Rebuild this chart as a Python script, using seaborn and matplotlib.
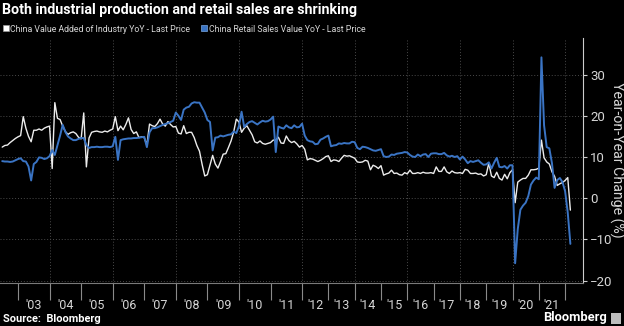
import matplotlib
matplotlib.use("Agg")
import matplotlib.pyplot as plt
from matplotlib.font_manager import FontProperties
from matplotlib.lines import Line2D
from matplotlib.patches import Rectangle
import pandas as pd
import seaborn as sns

# China value added of industry, YoY % (monthly; from 2012 only Mar-Dec are published)
industry_2002_2006 = [
    12.4, 12.8, 12.9, 13.5, 14.0, 14.5, 14.9,                          # 2002 Jun-Dec
    15.2, 19.8, 17.0, 15.0, 13.7, 16.5, 16.5, 16.8, 16.5, 17.0, 17.3, 17.5,  # 2003
    7.2, 23.2, 19.4, 19.1, 17.5, 16.2, 15.5, 15.9, 16.1, 15.7, 14.8, 14.4,   # 2004
    20.7, 7.6, 14.6, 16.0, 16.2, 16.3, 16.1, 16.0, 16.3, 16.1, 16.5, 16.8,   # 2005
    19.8, 16.4, 17.5, 16.6, 17.9, 19.5, 16.7, 15.7, 16.1, 14.7, 14.9, 14.7,  # 2006
]
industry_2007_2011 = [
    12.9, 18.0, 17.6, 17.4, 18.1, 19.2, 18.0, 17.5, 18.6, 17.9, 17.3, 17.4,  # 2007
    15.8, 15.6, 17.6, 15.7, 16.0, 16.0, 14.7, 12.8, 11.4, 8.2, 5.4, 5.7,     # 2008
    8.0, 10.4, 8.3, 7.3, 8.9, 10.7, 10.8, 12.3, 13.9, 16.1, 19.2, 18.5,      # 2009
    16.0, 17.0, 17.6, 16.5, 15.4, 13.7, 13.4, 13.9, 13.3, 13.1, 13.3, 13.5,  # 2010
    14.1, 14.1, 14.8, 13.4, 13.3, 15.1, 14.0, 13.5, 13.8, 13.2, 12.4, 12.8,  # 2011
]
industry_2012_2016 = [
    11.9, 9.3, 9.6, 9.5, 9.2, 8.9, 9.2, 9.6, 10.1, 10.3,   # 2012 Mar-Dec
    8.9, 9.3, 9.2, 8.9, 9.7, 10.4, 10.2, 10.3, 10.0, 9.7,  # 2013
    8.8, 8.7, 8.8, 9.2, 9.0, 6.9, 8.0, 7.7, 7.2, 7.9,      # 2014
    5.6, 5.9, 6.1, 6.8, 6.0, 6.1, 5.7, 5.6, 6.2, 5.9,      # 2015
    6.8, 6.0, 6.0, 6.2, 6.0, 6.3, 6.1, 6.1, 6.2, 6.0,      # 2016
]
industry_2017_2022 = [
    7.6, 6.5, 6.5, 7.6, 6.4, 6.0, 6.6, 6.2, 6.1, 6.2,      # 2017
    6.0, 7.0, 6.8, 6.0, 6.0, 6.1, 5.8, 5.9, 5.4, 5.7,      # 2018
    8.5, 5.4, 5.0, 6.3, 4.8, 4.4, 5.8, 4.7, 6.2, 6.9,      # 2019
    -1.1, 3.9, 4.4, 4.8, 4.8, 5.6, 6.9, 6.9, 7.0, 7.3,     # 2020
    14.1, 9.8, 8.8, 8.3, 6.4, 5.3, 3.1, 3.5, 3.8, 4.3,     # 2021
    5.0, -2.9,                                             # 2022 Mar-Apr
]

# China retail sales value, YoY %
retail_2002_2006 = [
    9.0, 8.9, 8.9, 8.8, 8.9, 9.2, 9.5,
    9.7, 9.0, 8.9, 7.7, 4.3, 8.3, 8.8, 9.9, 9.8, 9.5, 9.7, 10.2,
    11.7, 10.5, 12.8, 15.2, 17.8, 16.1, 15.0, 14.5, 14.1, 14.1, 14.4, 14.6,
    14.6, 12.9, 12.2, 12.4, 12.4, 12.5, 12.4, 12.4, 12.5, 12.5, 12.4, 12.6,
    14.9, 9.3, 14.1, 14.3, 14.4, 14.5, 14.5, 14.6, 14.6, 14.7, 14.8, 14.9,
]
retail_2007_2011 = [
    12.4, 16.0, 17.0, 17.0, 17.2, 17.5, 17.8, 18.0, 18.2, 18.5, 18.8, 20.8,
    20.0, 19.0, 21.5, 22.0, 22.2, 23.0, 23.3, 23.2, 23.2, 22.0, 20.8, 19.0,
    18.5, 11.6, 14.7, 14.8, 15.2, 15.0, 15.2, 15.4, 15.5, 16.2, 15.8, 17.5,
    21.0, 17.3, 18.0, 18.5, 18.7, 18.3, 17.9, 18.4, 18.8, 18.6, 18.7, 19.1,
    19.8, 11.2, 17.4, 17.1, 16.9, 17.7, 17.2, 17.0, 17.7, 17.2, 17.3, 18.1,
]
retail_2012_2016 = [
    15.2, 14.1, 13.8, 13.7, 13.1, 13.2, 14.2, 14.5, 14.9, 15.2,
    12.6, 12.8, 12.9, 13.3, 13.2, 13.4, 13.3, 13.3, 13.7, 13.6,
    12.2, 11.9, 12.5, 12.4, 12.2, 11.9, 11.6, 11.5, 11.7, 11.9,
    10.2, 10.0, 10.1, 10.6, 10.5, 10.8, 10.9, 11.0, 11.2, 11.1,
    10.5, 10.1, 10.0, 10.6, 10.2, 10.6, 10.7, 10.0, 10.8, 10.9,
]
retail_2017_2022 = [
    10.9, 10.7, 10.7, 11.0, 10.4, 10.1, 10.3, 10.0, 10.2, 9.4,
    10.1, 9.4, 8.5, 9.0, 8.8, 9.0, 9.2, 8.6, 8.1, 8.2,
    8.7, 7.2, 8.6, 9.8, 7.6, 7.5, 7.8, 7.2, 8.0, 8.0,
    -15.8, -7.5, -2.8, -1.8, -1.1, 0.5, 3.3, 4.3, 5.0, 4.6,
    34.2, 17.7, 12.4, 12.1, 8.5, 2.5, 4.4, 4.9, 3.9, 1.7,
    -3.5, -11.1,
]

y_ticks = [-20, -10, 0, 10, 20, 30]
title = "Both industrial production and retail sales are shrinking"
label_ip = "China Value Added of Industry YoY - Last Price"
label_rs = "China Retail Sales Value YoY - Last Price"
y_title = "Year-on-Year Change (%)"

# Observation dates: every month to 2011, then Mar-Dec only (Jan-Feb combined, not reported)
dates = pd.period_range("2002-06", "2022-04", freq="M")
dates = [d for d in dates if d.year < 2012 or d.month >= 3]

df = pd.DataFrame({
    "date": dates,
    "industry": industry_2002_2006 + industry_2007_2011 + industry_2012_2016 + industry_2017_2022,
    "retail": retail_2002_2006 + retail_2007_2011 + retail_2012_2016 + retail_2017_2022,
})
df["obs"] = range(len(df))

sns.set_theme(style="dark")
plt.rcParams["font.family"] = ["Roboto", "DejaVu Sans"]

F_REG = FontProperties(family=["Roboto", "DejaVu Sans"], weight="normal")
F_BOLD = FontProperties(family=["Roboto", "DejaVu Sans"], weight="bold")

BG = "#000000"
WHITE = "#ececec"
BLUE = "#3a74c4"
TXT = "#d6d6d6"

fig = plt.figure(figsize=(6.24, 3.26), dpi=100, facecolor=BG)
renderer = fig.canvas.get_renderer()


def fitted(fp, text, width_px):
    """Copy of fp sized so that text spans about width_px pixels."""
    p = fp.copy()
    p.set_size(10)
    t = fig.text(0, 0, text, fontproperties=p)
    w = t.get_window_extent(renderer).width
    t.remove()
    p.set_size(10 * width_px / w)
    return p


ax = fig.add_axes([0.0, 1 - 283 / 326, 583 / 624, (283 - 38) / 326])
ax.set_facecolor(BG)

sns.lineplot(data=df, x="obs", y="industry", ax=ax, color=WHITE, lw=1.0)
sns.lineplot(data=df, x="obs", y="retail", ax=ax, color=BLUE, lw=1.4)

ax.set_xlim(-0.84, 220.8)
ax.set_ylim(-20.6, 38.9)

# year boundaries at each December observation, labels centred in each year
dec_idx = df.index[[d.month == 12 for d in df["date"]]].tolist()
mid_idx = [(a + b) / 2 for a, b in zip(dec_idx[:-1], dec_idx[1:])]
mid_lab = ["'" + str(df["date"][b].year)[2:] for b in dec_idx[1:]]
ax.set_xticks(dec_idx)
ax.set_xticks(mid_idx, minor=True)
ax.set_xticklabels(mid_lab, minor=True)
ax.tick_params(axis="x", which="major", length=12.5, width=0.8, color="#8a8a8a",
               direction="out", labelbottom=False, bottom=True)
ax.tick_params(axis="x", which="minor", length=0, pad=11.5, labelsize=9,
               labelcolor=TXT, bottom=True)

# vertical dotted guides every two years
for i in dec_idx:
    if df["date"][i].year % 2 == 1:
        ax.axvline(i, color="#4a4a4a", lw=0.7, ls=(0, (1, 2)), zorder=0)

ax.yaxis.tick_right()
ax.set_yticks(y_ticks)
ax.tick_params(axis="y", which="major", length=3, width=0.8, color="#cccccc",
               pad=2, labelsize=9.5, labelcolor=TXT, right=True, left=False)
ax.grid(axis="y", color="#4a4a4a", lw=0.7, ls=(0, (1, 2)))
ax.grid(axis="x", visible=False)
ax.set_xlabel("")
ax.set_ylabel("")

for side in ["left", "top"]:
    ax.spines[side].set_visible(False)
ax.spines["right"].set_visible(True)
ax.spines["right"].set_color("#cccccc")
ax.spines["right"].set_linewidth(0.8)
ax.spines["bottom"].set_visible(True)
ax.spines["bottom"].set_color("#7a7a7a")
ax.spines["bottom"].set_linewidth(0.8)

fig.text(617 / 624, 1 - 160 / 326, y_title, rotation=270, ha="center", va="center",
         color=TXT, fontproperties=fitted(F_REG, y_title, 155))

# title and legend
fig.text(2 / 624, 1 - 10 / 326, title, ha="left", va="center", color="white",
         fontproperties=fitted(F_BOLD, title, 356))
leg_fp = fitted(F_REG, label_ip, 180)
fs_px = leg_fp.get_size_in_points() * 100 / 72
handles = [
    Line2D([], [], ls="none", marker="s", ms=5, mfc="white", mec="#999999", mew=0.5),
    Line2D([], [], ls="none", marker="s", ms=5, mfc=BLUE, mec="#7aa6e0", mew=0.5),
]
leg = fig.legend(handles, [label_ip, label_rs], loc="center left",
                 bbox_to_anchor=(3 / 624, 1 - 29 / 326), ncol=2, frameon=False,
                 handlelength=5 / fs_px, handletextpad=2.5 / fs_px,
                 columnspacing=11 / fs_px, borderaxespad=0, borderpad=0,
                 prop=leg_fp)
for t in leg.get_texts():
    t.set_color(TXT)

# footer
fig.text(3 / 624, 1 - 319 / 326, "Source:  Bloomberg", ha="left", va="center",
         color="white", fontproperties=fitted(F_BOLD, "Source:  Bloomberg", 98))
fig.text(607 / 624, 1 - 318 / 326, "Bloomberg", ha="right", va="center",
         color="white", fontproperties=fitted(F_BOLD, "Bloomberg", 64))
fig.patches.append(Rectangle((611 / 624, 1 - 324 / 326), 10 / 624, 11 / 326,
                             transform=fig.transFigure, facecolor="#bdbdbd",
                             edgecolor="none"))

fig.savefig("out.png", dpi=100, facecolor=BG)
